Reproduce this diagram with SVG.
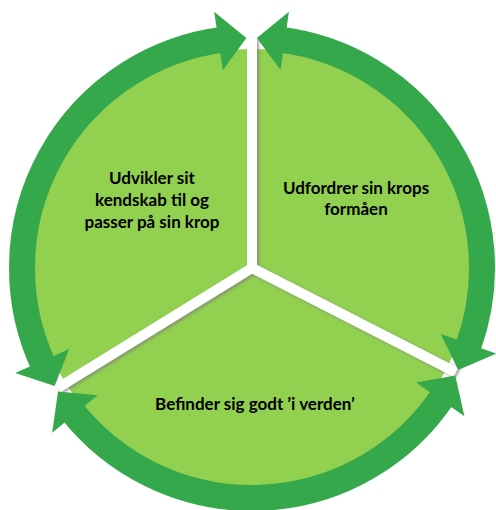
<svg xmlns="http://www.w3.org/2000/svg" width="496" height="510" viewBox="0 0 496 510">
  <style>
    .ring { fill: none; stroke: #35A84B; stroke-width: 26; }
    .head { fill: #35A84B; }
    .div { stroke: #FFFFFF; stroke-width: 10; stroke-linecap: butt; fill: none; }
    .lbl { font-family: Lato, "Liberation Sans", sans-serif; font-weight: bold; font-size: 17px; fill: #000000; text-anchor: middle; }
  </style>
  <defs>
    <filter id="shadow" x="-20%" y="-20%" width="140%" height="140%">
      <feDropShadow dx="2" dy="1.5" stdDeviation="1.5" flood-color="#7a7a7a" flood-opacity="0.7"/>
    </filter>
    <polygon id="cw" points="450.51,243.63 509.07,236.44 482,268"/>
    <polygon id="ccw" points="450.51,292.37 509.07,299.56 482,268"/>
  </defs>

  <g id="disk">
    <circle cx="252" cy="268" r="219" fill="#92D050"/>
  </g>

  <g id="dividers" filter="url(#shadow)">
    <line class="div" x1="252" y1="268" x2="252" y2="38"/>
    <line class="div" x1="252" y1="268" x2="58.02" y2="387.81"/>
    <line class="div" x1="252" y1="268" x2="455.86" y2="372.32"/>
    <circle cx="252" cy="268" r="5" fill="#FFFFFF"/>
  </g>

  <g id="connectors">
    <g id="arc-top-left">
      <path class="ring" d="M43.55,365.20 A230,230 0 0 1 223.97,39.71"/>
      <use href="#cw" class="head" transform="rotate(268.6 252 268)"/>
      <use href="#ccw" class="head" transform="rotate(149.1 252 268)"/>
    </g>
    <g id="arc-top-right">
      <path class="ring" d="M280.03,39.71 A230,230 0 0 1 468.13,346.66"/>
      <use href="#ccw" class="head" transform="rotate(271.2 252 268)"/>
      <use href="#cw" class="head" transform="rotate(26.3 252 268)"/>
    </g>
    <g id="arc-bottom">
      <path class="ring" d="M442.68,396.61 A230,230 0 0 1 72.00,411.18"/>
      <use href="#ccw" class="head" transform="rotate(27.9 252 268)"/>
      <use href="#cw" class="head" transform="rotate(147.5 252 268)"/>
    </g>
  </g>

  <g id="node-left">
    <text class="lbl" x="152" y="183.5">Udvikler sit</text>
    <text class="lbl" x="152" y="205.5">kendskab til og</text>
    <text class="lbl" x="152" y="227.5">passer på sin krop</text>
  </g>
  <g id="node-right">
    <text class="lbl" x="356" y="193.5">Udfordrer sin krops</text>
    <text class="lbl" x="356" y="214.5">formåen</text>
  </g>
  <g id="node-bottom">
    <text class="lbl" x="255" y="410">Befinder sig godt ’i verden’</text>
  </g>
</svg>
